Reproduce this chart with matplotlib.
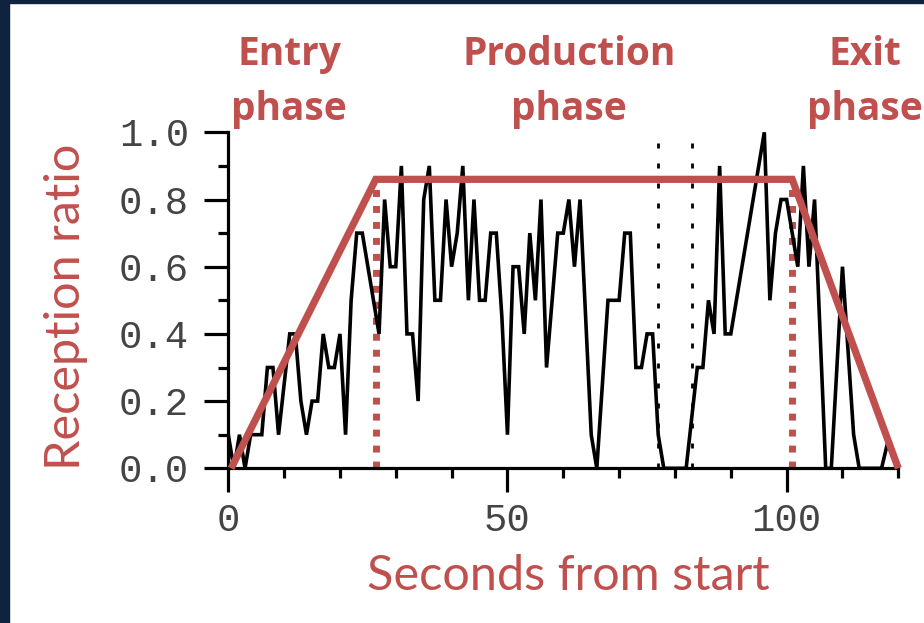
import matplotlib
matplotlib.use("Agg")
import matplotlib.pyplot as plt
from matplotlib.patches import Rectangle
from matplotlib.ticker import MultipleLocator, FixedLocator

# ---------------- data ----------------
seconds = [0, 1, 2, 3, 4, 5, 6, 7, 8, 9, 10, 11, 12, 13, 14, 15, 16, 17, 18, 19,
           20, 21, 22, 23, 24, 25, 26, 27, 28, 29, 30, 31, 32, 33, 34, 35, 36, 37, 38, 39,
           40, 41, 42, 43, 44, 45, 46, 47, 48, 49, 50, 51, 52, 53, 54, 55, 56, 57, 58, 59,
           60, 61, 62, 63, 64, 65, 66, 67, 68, 69, 70, 71, 72, 73, 74, 75, 76, 77, 78,
           82, 83, 84, 85, 86, 87, 88, 89, 90, 96, 97, 98, 99,
           100, 101, 102, 103, 104, 105, 106, 107, 108, 109, 110, 111, 112, 113, 117, 118]
ratio = [0.1, 0.0, 0.1, 0.0, 0.1, 0.1, 0.1, 0.3, 0.3, 0.1, 0.25, 0.4, 0.4, 0.2, 0.1, 0.2, 0.2, 0.4, 0.3, 0.3,
         0.4, 0.1, 0.5, 0.7, 0.7, 0.6, 0.5, 0.4, 0.8, 0.6, 0.6, 0.9, 0.4, 0.4, 0.2, 0.8, 0.9, 0.5, 0.5, 0.8,
         0.6, 0.7, 0.9, 0.5, 0.8, 0.5, 0.5, 0.7, 0.7, 0.45, 0.1, 0.6, 0.6, 0.4, 0.7, 0.5, 0.8, 0.3, 0.5, 0.7,
         0.7, 0.8, 0.6, 0.8, 0.45, 0.1, 0.0, 0.25, 0.5, 0.5, 0.5, 0.7, 0.7, 0.3, 0.3, 0.4, 0.4, 0.1, 0.0,
         0.0, 0.15, 0.3, 0.3, 0.5, 0.4, 0.9, 0.4, 0.4, 1.0, 0.5, 0.7, 0.8,
         0.8, 0.7, 0.6, 0.9, 0.6, 0.8, 0.4, 0.0, 0.0, 0.3, 0.6, 0.35, 0.1, 0.0, 0.0, 0.07]

# phase model (trapezoid)
phase_x = [0.5, 26.4, 101.0, 120.0]
phase_y = [0.0, 0.86, 0.86, 0.0]
phase_bounds = [26.5, 101.0]      # red dotted verticals
phase_bound_top = 0.84
gap_bounds = [77, 83]             # black dotted verticals
gap_top = 1.0

phase_names = [("Entry", "phase"), ("Production", "phase"), ("Exit", "phase")]
phase_centers_px = [289, 569, 865]

x_major = [0, 50, 100]
y_major = [0.0, 0.2, 0.4, 0.6, 0.8, 1.0]
y_labels = ["0.0", "0.2", "0.4", "0.6", "0.8", "1.0"]

RED = "#C0504D"
NAVY = "#0F2341"
W, H = 924, 623

# ---------------- figure ----------------
fig = plt.figure(figsize=(W / 100, H / 100), dpi=100)
fig.patch.set_facecolor("white")

# navy frame (left and top)
fig.patches.append(Rectangle((0, 0), 9 / W, 1, transform=fig.transFigure,
                             color=NAVY, zorder=0))
fig.patches.append(Rectangle((0, 1 - 3 / H), 1, 3 / H, transform=fig.transFigure,
                             color=NAVY, zorder=0))

left, right = 228.3, 898.3
top, bottom = 132.3, 468.3
ax = fig.add_axes([left / W, 1 - bottom / H, (right - left) / W, (bottom - top) / H])
ax.set_xlim(0, 120)
ax.set_ylim(0, 1.0)

for s in ["top", "right"]:
    ax.spines[s].set_visible(False)
for s in ["left", "bottom"]:
    ax.spines[s].set_linewidth(2.3)
    ax.spines[s].set_color("black")

ax.xaxis.set_major_locator(FixedLocator(x_major))
ax.xaxis.set_minor_locator(MultipleLocator(10))
ax.yaxis.set_major_locator(FixedLocator(y_major))
ax.yaxis.set_minor_locator(MultipleLocator(0.1))
ax.set_yticklabels(y_labels)
ax.tick_params(which="major", direction="out", length=17.3, width=2.3, color="black")
ax.tick_params(which="minor", direction="out", length=7.2, width=2.3, color="black")
ax.tick_params(axis="y", which="major", pad=11)
ax.tick_params(axis="x", which="major", pad=7.5)
for lab in ax.get_xticklabels() + ax.get_yticklabels():
    lab.set_fontfamily("Liberation Mono")
    lab.set_fontsize(28)
    lab.set_color("#444444")

# black dotted gap markers
for gx in gap_bounds:
    ax.plot([gx, gx], [0, gap_top], color="black", lw=2.0,
            linestyle=(0, (1.8, 5.4)), dash_capstyle="butt", zorder=1, clip_on=False)

# red dotted phase boundaries
for bx in phase_bounds:
    ax.plot([bx, bx], [0, phase_bound_top], color=RED, lw=5.0,
            linestyle=(0, (1.0, 1.3)), dash_capstyle="butt", zorder=1.5, clip_on=False)

# data
ax.plot(seconds, ratio, color="black", lw=2.6, zorder=2, solid_joinstyle="miter")

# phase model trapezoid
ax.plot(phase_x, phase_y, color=RED, lw=5.2, zorder=3, solid_joinstyle="miter",
        solid_capstyle="butt", clip_on=False)

# axis labels
fig.text(568 / W, 1 - 590 / H, "Seconds from start", color=RED, fontsize=35,
         family="Lato", ha="center", va="baseline")
fig.text(80 / W, 1 - 306.5 / H, "Reception ratio", color=RED, fontsize=35,
         family="Lato", ha="center", va="baseline", rotation=90, rotation_mode="anchor")

# phase labels
for (l1, l2), cx in zip(phase_names, phase_centers_px):
    fig.text(cx / W, 1 - 65 / H, l1, color=RED, fontsize=28, fontweight="bold",
             family="Open Sans", ha="center", va="baseline")
    fig.text(cx / W, 1 - 120 / H, l2, color=RED, fontsize=28, fontweight="bold",
             family="Open Sans", ha="center", va="baseline")

fig.savefig("out.png", dpi=100, facecolor="white")
